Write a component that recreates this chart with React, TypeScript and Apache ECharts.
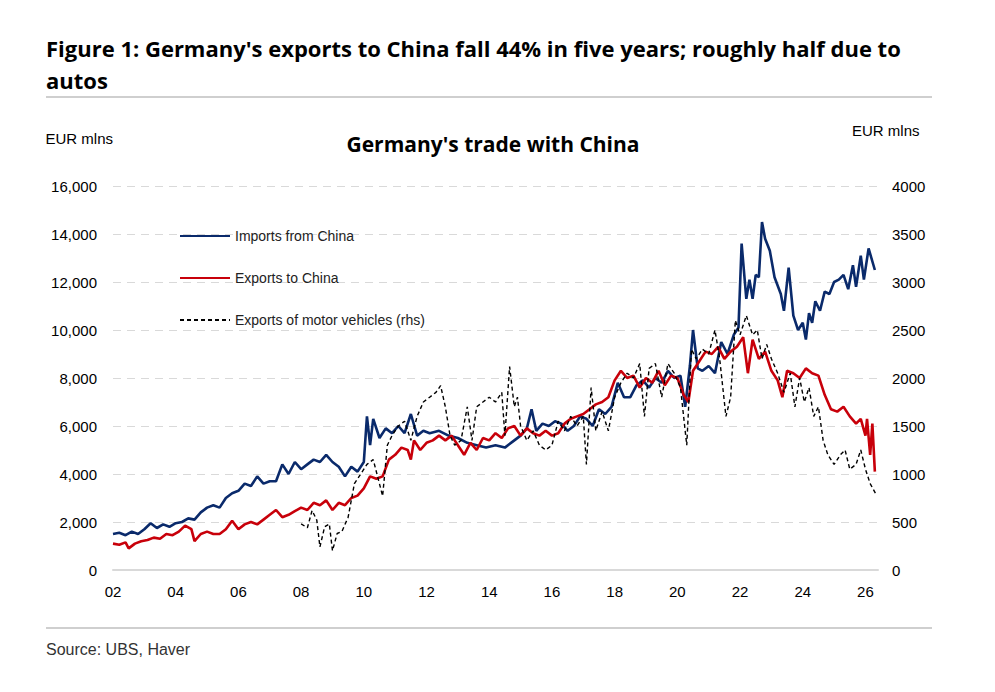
import React, { useEffect, useRef } from "react";
import * as echarts from "echarts";

const imports: [number, number][] = [
  [2002.0,1500],[2002.2,1550],[2002.4,1450],[2002.6,1600],[2002.8,1500],[2003.0,1700],[2003.2,1950],[2003.4,1750],[2003.6,1900],[2003.8,1800],[2004.0,1950],[2004.2,2000],[2004.4,2150],[2004.6,2100],[2004.8,2400],[2005.0,2600],[2005.2,2700],[2005.4,2600],[2005.6,3000],[2005.8,3200],[2006.0,3300],[2006.2,3600],[2006.4,3500],[2006.6,3900],[2006.8,3600],[2007.0,3700],[2007.2,3700],[2007.4,4400],[2007.6,4000],[2007.8,4500],[2008.0,4200],[2008.2,4400],[2008.4,4600],[2008.6,4500],[2008.8,4800],[2009.0,4500],[2009.2,4300],[2009.4,3900],[2009.6,4300],[2009.8,4100],[2010.0,4500],[2010.1,6400],[2010.2,5200],[2010.3,6300],[2010.5,5500],[2010.7,5900],[2010.9,5700],[2011.1,6000],[2011.3,5700],[2011.5,6500],[2011.7,5600],[2011.9,5800],[2012.1,5700],[2012.4,5800],[2012.7,5600],[2013.0,5500],[2013.3,5300],[2013.6,5200],[2013.9,5100],[2014.2,5200],[2014.5,5100],[2014.8,5400],[2015.0,5600],[2015.2,5900],[2015.35,6700],[2015.5,5800],[2015.7,6100],[2015.9,6000],[2016.1,6200],[2016.3,6100],[2016.5,5800],[2016.7,6000],[2016.9,6400],[2017.1,6300],[2017.3,6000],[2017.5,6700],[2017.7,6500],[2017.9,6800],[2018.1,7800],[2018.3,7200],[2018.5,7200],[2018.7,7700],[2018.9,7900],[2019.1,7600],[2019.3,8000],[2019.5,7800],[2019.7,8300],[2019.9,8000],[2020.1,8100],[2020.25,6800],[2020.4,8500],[2020.5,10000],[2020.65,8400],[2020.8,8300],[2021.0,8500],[2021.2,8200],[2021.4,9500],[2021.6,9000],[2021.8,9800],[2021.95,10100],[2022.05,13600],[2022.2,11300],[2022.3,12100],[2022.4,11300],[2022.5,12300],[2022.6,12200],[2022.7,14500],[2022.8,13800],[2022.95,13300],[2023.1,12200],[2023.3,11500],[2023.4,10800],[2023.55,12600],[2023.7,10600],[2023.85,10000],[2024.0,10300],[2024.1,9600],[2024.2,10700],[2024.3,10300],[2024.4,11200],[2024.55,10800],[2024.7,11600],[2024.85,11500],[2025.0,12000],[2025.15,12100],[2025.3,12300],[2025.45,11700],[2025.6,12700],[2025.7,11800],[2025.85,13100],[2025.95,12100],[2026.1,13400],[2026.3,12500]
];

const exportsCN: [number, number][] = [
  [2002.0,1100],[2002.2,1050],[2002.4,1150],[2002.5,900],[2002.7,1100],[2002.9,1200],[2003.1,1250],[2003.3,1350],[2003.5,1300],[2003.7,1500],[2003.9,1450],[2004.1,1600],[2004.3,1850],[2004.5,1700],[2004.6,1200],[2004.8,1500],[2005.0,1600],[2005.2,1500],[2005.4,1500],[2005.6,1700],[2005.8,2050],[2006.0,1700],[2006.2,1900],[2006.4,2000],[2006.6,1900],[2006.8,2100],[2007.0,2300],[2007.2,2500],[2007.4,2200],[2007.6,2300],[2007.8,2450],[2008.0,2600],[2008.2,2500],[2008.4,2800],[2008.6,2700],[2008.8,2900],[2009.0,2500],[2009.2,2800],[2009.4,2700],[2009.6,3000],[2009.8,3100],[2010.0,3400],[2010.2,3900],[2010.4,3800],[2010.6,3900],[2010.8,4600],[2011.0,4800],[2011.2,5100],[2011.4,5000],[2011.5,4600],[2011.6,5400],[2011.8,5000],[2012.0,5300],[2012.2,5400],[2012.4,5600],[2012.6,5400],[2012.8,5600],[2013.0,5200],[2013.2,4800],[2013.4,5300],[2013.6,5000],[2013.8,5500],[2014.0,5400],[2014.2,5700],[2014.4,5500],[2014.6,5900],[2014.8,6000],[2015.0,5600],[2015.2,5900],[2015.4,5700],[2015.6,5600],[2015.8,5800],[2016.0,5600],[2016.2,5700],[2016.4,6100],[2016.6,6300],[2016.8,6400],[2017.0,6500],[2017.2,6700],[2017.4,6900],[2017.6,7000],[2017.8,7200],[2018.0,7900],[2018.2,8300],[2018.4,8000],[2018.6,8100],[2018.8,7600],[2019.0,8000],[2019.2,7800],[2019.4,8300],[2019.6,7700],[2019.8,8100],[2020.0,8000],[2020.2,7300],[2020.35,7000],[2020.5,8300],[2020.7,8700],[2020.9,9100],[2021.1,9000],[2021.3,9300],[2021.5,8800],[2021.7,9100],[2021.9,9300],[2022.1,9700],[2022.25,8200],[2022.4,9600],[2022.6,8800],[2022.8,9100],[2023.0,8300],[2023.2,7900],[2023.35,7200],[2023.5,8300],[2023.7,8200],[2023.9,8000],[2024.1,8400],[2024.3,8200],[2024.5,8100],[2024.7,7300],[2024.9,6700],[2025.1,6600],[2025.3,6800],[2025.5,6400],[2025.7,6100],[2025.85,6300],[2026.0,5600],[2026.05,6300],[2026.15,4800],[2026.22,6100],[2026.3,4100]
];

const motorVehicles: [number, number][] = [
  [2008.0,480],[2008.2,440],[2008.35,620],[2008.5,520],[2008.6,240],[2008.75,450],[2008.9,480],[2009.0,200],[2009.15,380],[2009.3,400],[2009.5,550],[2009.7,900],[2009.9,1000],[2010.1,1100],[2010.3,1150],[2010.45,960],[2010.6,770],[2010.75,1300],[2010.9,1400],[2011.1,1500],[2011.3,1550],[2011.5,1350],[2011.7,1600],[2011.9,1750],[2012.1,1800],[2012.3,1850],[2012.45,1920],[2012.6,1700],[2012.75,1400],[2012.9,1300],[2013.1,1350],[2013.3,1700],[2013.45,1350],[2013.6,1700],[2013.8,1750],[2014.0,1800],[2014.2,1750],[2014.4,1850],[2014.5,1400],[2014.65,2120],[2014.8,1700],[2014.9,1800],[2015.0,1500],[2015.2,1350],[2015.4,1450],[2015.6,1300],[2015.8,1250],[2016.0,1300],[2016.2,1550],[2016.4,1450],[2016.6,1600],[2016.8,1500],[2017.0,1600],[2017.1,1100],[2017.25,1900],[2017.4,1450],[2017.6,1650],[2017.8,1450],[2018.0,1800],[2018.2,1950],[2018.4,2050],[2018.6,2000],[2018.8,2150],[2018.95,1600],[2019.1,2100],[2019.3,2150],[2019.5,1800],[2019.7,2150],[2019.9,2050],[2020.1,1900],[2020.3,1300],[2020.45,2300],[2020.6,2200],[2020.8,2300],[2021.0,2250],[2021.2,2500],[2021.35,2200],[2021.55,1600],[2021.7,1800],[2021.85,2600],[2022.0,2450],[2022.2,2650],[2022.4,2450],[2022.55,2500],[2022.7,2200],[2022.85,2350],[2023.0,2200],[2023.2,2050],[2023.4,1850],[2023.6,2050],[2023.75,1700],[2023.9,2000],[2024.05,1750],[2024.2,1900],[2024.35,1600],[2024.5,1700],[2024.65,1350],[2024.8,1200],[2025.0,1100],[2025.2,1200],[2025.35,1250],[2025.5,1050],[2025.7,1100],[2025.85,1250],[2026.0,1050],[2026.15,900],[2026.35,780]
];

const leftTicks = { min: 0, max: 16000, interval: 2000 };
const rightTicks = { min: 0, max: 4000, interval: 500 };

export default function App() {
  const ref = useRef<HTMLDivElement>(null);
  useEffect(() => {
    const chart = echarts.init(ref.current!, undefined, { renderer: "svg" });
    const font = "Liberation Sans";
    chart.setOption({
      animation: false,
      backgroundColor: "#fff",
      textStyle: { fontFamily: font },
      title: { text: "Germany's trade with China", left: 488, top: 128, textAlign: "center",
        textStyle: { fontSize: 21, fontWeight: "bold", color: "#000", fontFamily: "Open Sans" } },
      legend: {
        orient: "vertical", left: 174, top: 223, itemGap: 26, itemWidth: 50, itemHeight: 20,
        itemStyle: { opacity: 0 },
        textStyle: { fontSize: 14, color: "#222", fontFamily: font },
        data: ["Imports from China", "Exports to China", "Exports of motor vehicles (rhs)"],
      },
      grid: { left: 113, right: 117, top: 186, bottom: 122 },
      xAxis: {
        type: "value", min: 2002, max: 2026.4, interval: 2,
        axisLine: { lineStyle: { color: "#d9d9d9", width: 2 } },
        axisTick: { show: false }, splitLine: { show: false },
        axisLabel: { showMaxLabel: false, color: "#000", fontSize: 15, margin: 14,
          formatter: (v: number) => String(Math.round(v) % 100).padStart(2, "0") },
      },
      yAxis: [
        { type: "value", ...leftTicks, name: "EUR mlns", nameLocation: "end", nameGap: 40,
          nameTextStyle: { color: "#000", fontSize: 15, align: "right", padding: [0, 0, 0, 0] },
          axisLine: { show: false }, axisTick: { show: false },
          axisLabel: { color: "#000", fontSize: 15, margin: 16,
            formatter: (v: number) => v.toLocaleString("en-US") },
          splitLine: { lineStyle: { color: "#d9d9d9", type: [8, 6] } } },
        { type: "value", ...rightTicks, name: "EUR mlns", nameLocation: "end", nameGap: 48,
          nameTextStyle: { color: "#000", fontSize: 15, align: "left", padding: [0, 0, 0, -26] },
          axisLine: { show: false }, axisTick: { show: false }, splitLine: { show: false },
          axisLabel: { color: "#000", fontSize: 15, margin: 14, formatter: (v: number) => String(v) } },
      ],
      series: [
        { name: "Imports from China", type: "line", data: imports, showSymbol: false, symbol: "none",
          lineStyle: { color: "#0a2a6b", width: 2.6 }, itemStyle: { color: "#0a2a6b" }, z: 3 },
        { name: "Exports to China", type: "line", data: exportsCN, showSymbol: false, symbol: "none",
          lineStyle: { color: "#c8000a", width: 2.6 }, itemStyle: { color: "#c8000a" }, z: 4 },
        { name: "Exports of motor vehicles (rhs)", type: "line", yAxisIndex: 1, data: motorVehicles,
          showSymbol: false, symbol: "none",
          lineStyle: { color: "#000", width: 1.4, type: [4, 3] }, itemStyle: { color: "#000" }, z: 5 },
      ],
      graphic: [
        { type: "text", left: 46, top: 32, style: { text: "Figure 1: Germany's exports to China fall 44% in five years; roughly half due to\nautos",
          fontSize: 22, fontWeight: "bold", fill: "#000", fontFamily: "Open Sans", lineHeight: 32 } },
        { type: "line", shape: { x1: 46, y1: 97, x2: 932, y2: 97 }, style: { stroke: "#bfbfbf", lineWidth: 1.5 } },
        { type: "line", shape: { x1: 46, y1: 628, x2: 932, y2: 628 }, style: { stroke: "#bfbfbf", lineWidth: 1.5 } },
        { type: "text", left: 46, top: 641, style: { text: "Source: UBS, Haver", fontSize: 16, fill: "#333", fontFamily: font } },
      ],
    });
    return () => chart.dispose();
  }, []);
  return <div ref={ref} style={{ position: "fixed", left: 0, top: 0, width: 995, height: 692 }} />;
}
